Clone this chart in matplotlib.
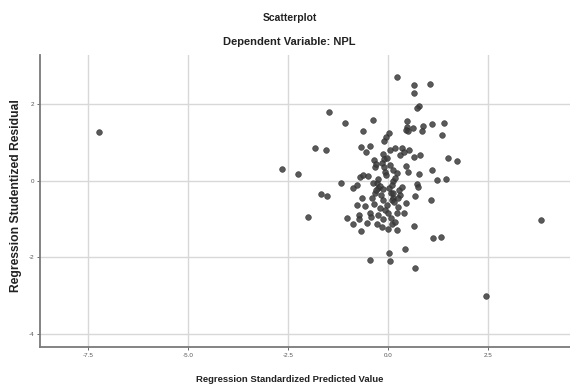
import numpy as np
import matplotlib
matplotlib.use("Agg")
import matplotlib.pyplot as plt

plt.rcParams['font.family'] = ['Liberation Sans', 'DejaVu Sans']

# Regression Standardized Predicted Value (x) vs Studentized Residual (y)
pred = [0.22, 0.66, 1.05, 0.65, 0.77, 0.73, -1.48, -1.07, -0.38, 0.48,
        0.47, 0.44, 0.50, 0.63, 0.88, 0.86, 1.10, 1.41, 1.34, -0.63,
        0.02, -0.05, -0.10, -1.82, -1.55, -0.68, -0.45, -0.54, -0.13, -0.10,
        -0.15, -0.10, -0.08, -0.05, 0.05, 0.18, 0.30, 0.36, 0.40, 0.53,
        0.66, 0.80, 1.51, 1.72, -2.66, -2.26, -1.18, -0.33, -0.70, -0.62,
        -0.51, 0.13, 0.22, 0.44, 0.51, 0.78, 1.11, 1.22, 1.45, -0.87,
        -0.78, -0.28, -0.24, -0.20, 0.13, 0.72, 0.76, -1.68, -1.53, -0.66,
        0.68, 1.08, -0.78, -0.58, -1.99, -1.02, -0.88, -0.73, -0.72, -0.45,
        -0.42, -0.53, -0.68, -0.28, -0.13, 0.66, 1.13, 1.32, 0.43, 0.03,
        0.05, -0.45, 0.68, 3.83, 2.45, -7.23,
        -0.18, -0.12, -0.03, -0.08, 0.01, 0.07, 0.09, 0.18, 0.22, 0.22,
        0.26, 0.30, 0.45, 0.39, 0.08, 0.13, 0.03, -0.12, 0.13, 0.09,
        0.26, -0.33, -0.35, -0.30, -0.25, -0.38, -0.30, -0.40, -0.35, -0.20,
        -0.25, -0.15, 0.00, 0.05, 0.10, 0.18, 0.28, 0.35, -0.02, 0.15]
resid = [2.72, 2.51, 2.52, 2.30, 1.96, 1.90, 1.79, 1.50, 1.58, 1.56,
         1.41, 1.33, 1.30, 1.39, 1.43, 1.30, 1.48, 1.52, 1.21, 1.30,
         1.24, 1.14, 1.05, 0.87, 0.81, 0.89, 0.90, 0.74, 0.70, 0.57,
         0.46, 0.36, 0.23, 0.15, 0.80, 0.87, 0.67, 0.85, 0.76, 0.80,
         0.61, 0.68, 0.60, 0.51, 0.30, 0.19, -0.06, 0.35, 0.10, 0.15,
         0.12, 0.28, 0.21, 0.38, 0.24, 0.18, 0.27, 0.01, 0.04, -0.20,
         -0.11, -0.07, -0.20, -0.14, 0.00, -0.09, -0.16, -0.35, -0.40, -0.46,
         -0.40, -0.51, -0.64, -0.66, -0.96, -0.98, -1.12, -0.90, -1.01, -0.84,
         -0.96, -1.10, -1.31, -1.13, -1.01, -1.19, -1.50, -1.46, -1.79, -1.88,
         -2.09, -2.07, -2.28, -1.03, -3.01, 1.27,
         -0.37, -0.51, -0.64, -0.77, -0.85, -0.98, -1.12, -1.07, -1.29, -0.85,
         -0.68, -0.37, -0.58, -0.84, -0.33, -0.46, -0.20, -0.22, -0.33, -0.50,
         -0.46, -0.33, 0.55, 0.45, 0.05, -0.05, -0.25, -0.45, -0.60, -0.70,
         -0.90, -1.20, -1.25, 0.40, -0.10, 0.06, -0.25, -0.15, 0.60, -0.55]

xticks = [-7.5, -5.0, -2.5, 0.0, 2.5]
yticks = [-4, -2, 0, 2]

fig = plt.figure(figsize=(5.70, 3.87), dpi=100)
ax = fig.add_axes([0.070, 0.103, 0.930, 0.755])

ax.scatter(pred, resid, s=17, color='#3c3c3c', edgecolors='#2a2a2a',
           linewidths=0.4, alpha=0.85, zorder=3)

ax.set_xlim(-8.7, 4.55)
ax.set_ylim(-4.35, 3.29)
ax.set_xticks(xticks)
ax.set_xticklabels(['%.1f' % v for v in xticks])
ax.set_yticks(yticks)
ax.set_yticklabels([str(v) for v in yticks])
ax.grid(True, color='#d8d8d8', linewidth=1.0, zorder=0)
ax.set_axisbelow(True)

for side in ['top', 'right']:
    ax.spines[side].set_visible(False)
for side in ['left', 'bottom']:
    ax.spines[side].set_color('#7a7a7a')
    ax.spines[side].set_linewidth(1.3)

ax.tick_params(axis='both', labelsize=4.5, colors='#555555', length=2, width=0.6, pad=2)

ax.set_xlabel('Regression Standardized Predicted Value', fontsize=6.8,
              fontweight='bold', color='#222222')
ax.xaxis.set_label_coords(250 / 530, -0.095)
ax.set_ylabel('Regression Studentized Residual', fontsize=8.7,
              fontweight='bold', color='#222222')
ax.yaxis.set_label_coords(-0.033, 0.52)

fig.text(0.508, 0.953, 'Scatterplot', ha='center', va='center',
         fontsize=7.5, fontweight='bold', color='#222222')
fig.text(0.508, 0.891, 'Dependent Variable: NPL', ha='center', va='center',
         fontsize=8, fontweight='bold', color='#222222')

fig.savefig('out.png', dpi=100)
